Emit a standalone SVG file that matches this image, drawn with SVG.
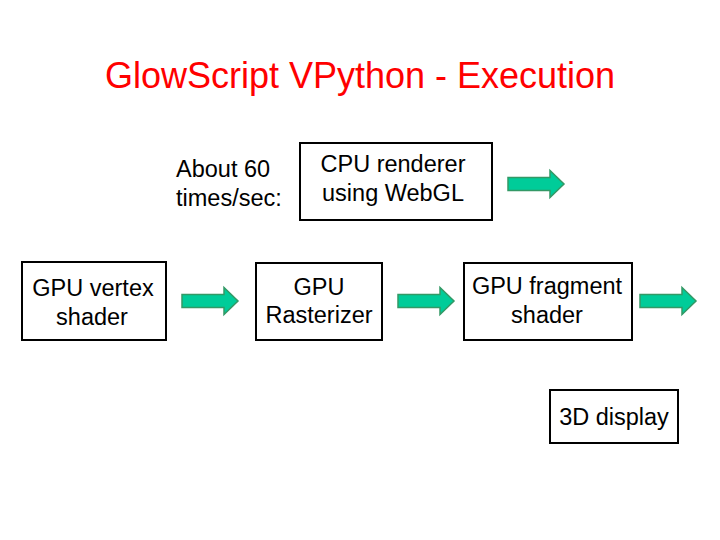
<svg xmlns="http://www.w3.org/2000/svg" xmlns:xlink="http://www.w3.org/1999/xlink" width="720" height="540" viewBox="0 0 720 540">
<style>
  .box { fill: #ffffff; stroke: #000000; stroke-width: 2; }
  .t { font-family: "Liberation Sans", Arial, sans-serif; font-size: 23.5px; fill: #000000; }
  .c { text-anchor: middle; }
  .title { font-family: "Liberation Sans", Arial, sans-serif; font-size: 36px; fill: #ff0000; text-anchor: middle; }
  .arrow { fill: #00cc99; stroke: #339966; stroke-width: 1.5; stroke-linejoin: miter; }
</style>
<defs>
  <polygon id="arr" class="arrow" points="0,-6.5 42,-6.5 42,-13.5 56,0 42,13.5 42,6.5 0,6.5"/>
</defs>
<rect width="720" height="540" fill="#ffffff"/>
<text class="title" x="360" y="88">GlowScript VPython - Execution</text>
<g id="label-rate">
  <text class="t" x="176" y="177">About 60</text>
  <text class="t" x="176" y="206">times/sec:</text>
</g>
<g id="cpu">
  <rect class="box" x="300" y="143" width="192" height="77"/>
  <text class="t c" x="393" y="172">CPU renderer</text>
  <text class="t c" x="393" y="201">using WebGL</text>
</g>
<g id="vertex">
  <rect class="box" x="22" y="262" width="144" height="78"/>
  <text class="t c" x="93" y="296">GPU vertex</text>
  <text class="t c" x="92" y="325">shader</text>
</g>
<g id="rasterizer">
  <rect class="box" x="256" y="263" width="126" height="77"/>
  <text class="t c" x="319" y="295">GPU</text>
  <text class="t c" x="319" y="323">Rasterizer</text>
</g>
<g id="fragment">
  <rect class="box" x="464" y="263" width="168" height="77"/>
  <text class="t c" x="547" y="294">GPU fragment</text>
  <text class="t c" x="547" y="323">shader</text>
</g>
<g id="display">
  <rect class="box" x="550" y="390" width="128" height="53"/>
  <text class="t c" x="614" y="425">3D display</text>
</g>
<g id="connectors">
  <use xlink:href="#arr" href="#arr" transform="translate(508,184)"/>
  <use xlink:href="#arr" href="#arr" transform="translate(182,301)"/>
  <use xlink:href="#arr" href="#arr" transform="translate(398,301)"/>
  <use xlink:href="#arr" href="#arr" transform="translate(640,301)"/>
</g>
</svg>
